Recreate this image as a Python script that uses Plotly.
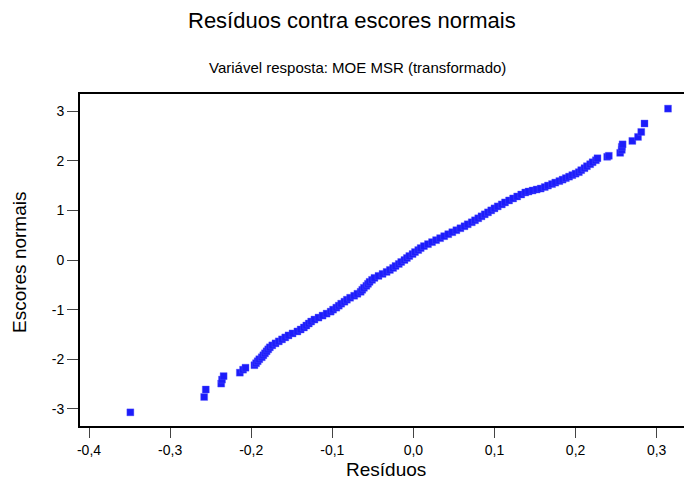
import plotly.graph_objects as go

# Residuals (x) and their normal scores (y)
residuos = [
    -0.349, -0.258, -0.256, -0.237, -0.236, -0.234, -0.214, -0.210, -0.207, -0.196, -0.194,
    -0.192, -0.190, -0.187, -0.185, -0.183, -0.181, -0.179, -0.177,
    -0.174, -0.170, -0.166, -0.162, -0.158,
    -0.154, -0.149, -0.143,
    -0.139, -0.135, -0.132, -0.129, -0.126,
    -0.122, -0.117, -0.112, -0.107,
    -0.102, -0.099, -0.095, -0.092, -0.089, -0.085,
    -0.082, -0.078, -0.073, -0.069,
    -0.065, -0.063, -0.061, -0.058, -0.056, -0.054, -0.051,
    -0.048, -0.043, -0.038, -0.033,
    -0.029, -0.025, -0.022, -0.018, -0.015, -0.011,
    -0.008, -0.005, -0.001, 0.002, 0.006, 0.009,
    0.013, 0.018, 0.023, 0.028,
    0.033, 0.038, 0.043, 0.048, 0.053,
    0.058, 0.063, 0.067, 0.072,
    0.076, 0.080, 0.084, 0.088, 0.092,
    0.096, 0.100, 0.104, 0.109, 0.113,
    0.118, 0.123, 0.128, 0.133, 0.138,
    0.142, 0.147, 0.152, 0.157,
    0.162, 0.166, 0.171, 0.175, 0.180, 0.184,
    0.188, 0.192, 0.196, 0.200, 0.204,
    0.207, 0.211, 0.214, 0.218, 0.221, 0.225,
    0.227, 0.239, 0.241, 0.255, 0.257, 0.257, 0.258, 0.270, 0.277, 0.281, 0.285, 0.314,
]
escores = [
    -3.07, -2.76, -2.61, -2.49, -2.41, -2.34, -2.27, -2.21, -2.17, -2.12, -2.08,
    -2.04, -2.00, -1.96, -1.92, -1.88, -1.84, -1.80, -1.76,
    -1.72, -1.68, -1.64, -1.60, -1.56,
    -1.52, -1.48, -1.44,
    -1.40, -1.36, -1.32, -1.28, -1.24,
    -1.20, -1.16, -1.12, -1.08,
    -1.04, -1.00, -0.96, -0.92, -0.88, -0.84,
    -0.80, -0.76, -0.72, -0.68,
    -0.64, -0.60, -0.56, -0.52, -0.48, -0.44, -0.40,
    -0.36, -0.32, -0.28, -0.24,
    -0.20, -0.16, -0.12, -0.08, -0.04, 0.00,
    0.04, 0.08, 0.12, 0.16, 0.20, 0.24,
    0.28, 0.32, 0.36, 0.40,
    0.44, 0.48, 0.52, 0.56, 0.60,
    0.64, 0.68, 0.72, 0.76,
    0.80, 0.84, 0.88, 0.92, 0.96,
    1.00, 1.04, 1.08, 1.12, 1.16,
    1.20, 1.24, 1.28, 1.32, 1.36,
    1.38, 1.40, 1.42, 1.44,
    1.47, 1.50, 1.53, 1.56, 1.59, 1.62,
    1.65, 1.68, 1.71, 1.74, 1.77,
    1.81, 1.85, 1.89, 1.93, 1.97, 2.01,
    2.05, 2.08, 2.10, 2.16, 2.22, 2.28, 2.33, 2.40, 2.48, 2.58, 2.75, 3.05,
]

x_ticks = [-0.4, -0.3, -0.2, -0.1, 0.0, 0.1, 0.2, 0.3]
x_tick_labels = ["-0,4", "-0,3", "-0,2", "-0,1", "0,0", "0,1", "0,2", "0,3"]
y_ticks = [-3, -2, -1, 0, 1, 2, 3]
y_tick_labels = ["-3", "-2", "-1", "0", "1", "2", "3"]

FONT = "Liberation Sans, Arial, sans-serif"

fig = go.Figure(
    go.Scatter(
        x=residuos,
        y=escores,
        mode="markers",
        marker=dict(symbol="square", size=7, color="rgb(28,28,250)",
                    line=dict(width=0.6, color="rgba(90,90,255,0.6)")),
        hoverinfo="x+y",
    )
)

fig.update_layout(
    width=685,
    height=483,
    margin=dict(l=80, r=1, t=94, b=57),
    paper_bgcolor="white",
    plot_bgcolor="white",
    showlegend=False,
    font=dict(family=FONT, color="black", size=14),
    xaxis=dict(
        range=[-0.4111, 0.3337],
        tickvals=x_ticks,
        ticktext=x_tick_labels,
        showgrid=False,
        zeroline=False,
        showline=True,
        linecolor="black",
        linewidth=2,
        mirror=True,
        ticks="outside",
        ticklen=10,
        tickwidth=1,
        tickcolor="#444",
        tickfont=dict(size=14),
    ),
    yaxis=dict(
        range=[-3.345, 3.345],
        tickvals=y_ticks,
        ticktext=y_tick_labels,
        showgrid=False,
        zeroline=False,
        showline=True,
        linecolor="black",
        linewidth=2,
        mirror=False,
        ticks="outside",
        ticklen=11,
        tickwidth=1,
        tickcolor="#444",
        tickfont=dict(size=14),
    ),
    annotations=[
        dict(text="Resíduos contra escores normais", xref="paper", yref="paper",
             x=0.450, y=1.22, showarrow=False, xanchor="center", yanchor="middle",
             font=dict(size=22, family=FONT)),
        dict(text="Variável resposta: MOE MSR (transformado)", xref="paper", yref="paper",
             x=0.460, y=1.081, showarrow=False, xanchor="center", yanchor="middle",
             font=dict(size=15, family=FONT)),
        dict(text="Resíduos", xref="paper", yref="paper",
             x=0.5066, y=-0.1325, showarrow=False, xanchor="center", yanchor="middle",
             font=dict(size=19, family=FONT)),
        dict(text="Escores normais", xref="paper", yref="paper",
             x=-0.0993, y=0.494, showarrow=False, xanchor="center", yanchor="middle",
             textangle=-90, font=dict(size=19, family=FONT)),
    ],
)

fig.write_html("out.html")
